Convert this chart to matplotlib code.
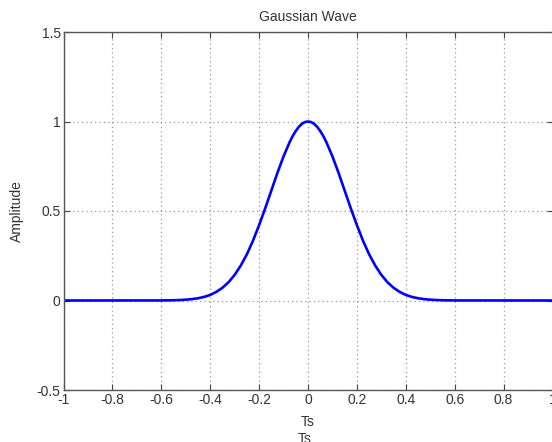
import matplotlib
matplotlib.use("Agg")
import matplotlib.pyplot as plt

# values
ts = [-1.0, -0.6, -0.575, -0.55, -0.525, -0.5, -0.475, -0.45, -0.425, -0.4,
      -0.375, -0.35, -0.325, -0.3, -0.275, -0.25, -0.225, -0.2, -0.175, -0.15,
      -0.125, -0.1, -0.075, -0.0625, -0.05, -0.0375, -0.025, -0.0125, 0.0,
      0.0125, 0.025, 0.0375, 0.05, 0.0625, 0.075, 0.1,
      0.125, 0.15, 0.175, 0.2, 0.225, 0.25, 0.275, 0.3, 0.325, 0.35,
      0.375, 0.4, 0.425, 0.45, 0.475, 0.5, 0.525, 0.55, 0.575, 0.6, 1.0]
amp = [0.0, 0.0004, 0.0008, 0.0014, 0.0026, 0.0045, 0.0076, 0.0125, 0.020, 0.031,
       0.048, 0.071, 0.102, 0.143, 0.195, 0.258, 0.334, 0.421, 0.515, 0.614,
       0.713, 0.805, 0.885, 0.919, 0.947, 0.970, 0.987, 0.997, 1.0,
       0.997, 0.987, 0.970, 0.947, 0.919, 0.885, 0.805,
       0.713, 0.614, 0.515, 0.421, 0.334, 0.258, 0.195, 0.143, 0.102, 0.071,
       0.048, 0.031, 0.020, 0.0125, 0.0076, 0.0045, 0.0026, 0.0014, 0.0008, 0.0004, 0.0]

xticks = [-1, -0.8, -0.6, -0.4, -0.2, 0, 0.2, 0.4, 0.6, 0.8, 1]
xtick_labels = ['-1', '-0.8', '-0.6', '-0.4', '-0.2', '0', '0.2', '0.4', '0.6', '0.8', '1']
yticks = [-0.5, 0, 0.5, 1, 1.5]
ytick_labels = ['-0.5', '0', '0.5', '1', '1.5']

plt.rcParams['font.family'] = ['Liberation Sans', 'DejaVu Sans']
plt.rcParams['font.size'] = 10

fig = plt.figure(figsize=(5.52, 4.42), dpi=100)
ax = fig.add_axes([63.5 / 552, 1 - 390 / 442, 489 / 552, 358 / 442])

ax.plot(ts, amp, color='#0000ff', lw=1.9, solid_joinstyle='round')

ax.set_xlim(-1, 1)
ax.set_ylim(-0.5, 1.5)
ax.set_xticks(xticks)
ax.set_xticklabels(xtick_labels)
ax.set_yticks(yticks)
ax.set_yticklabels(ytick_labels)
ax.tick_params(direction='in', length=4, top=True, right=True,
               colors='#444444', labelcolor='#333333', pad=2)
ax.grid(True, color='#999999', linestyle=(0, (1, 2.5)), linewidth=0.9)
for s in ax.spines.values():
    s.set_color('#555555')
    s.set_linewidth(1.0)

ax.set_title('Gaussian Wave', color='#333333', fontsize=10, pad=8)
ax.set_ylabel('Amplitude', color='#333333', fontsize=10, labelpad=9)
ax.set_xlabel('Ts', color='#333333', labelpad=6)
fig.text(305 / 552, 1 - 439 / 442, 'Ts', color='#333333', ha='center', va='center')

fig.savefig('out.png', dpi=100)
